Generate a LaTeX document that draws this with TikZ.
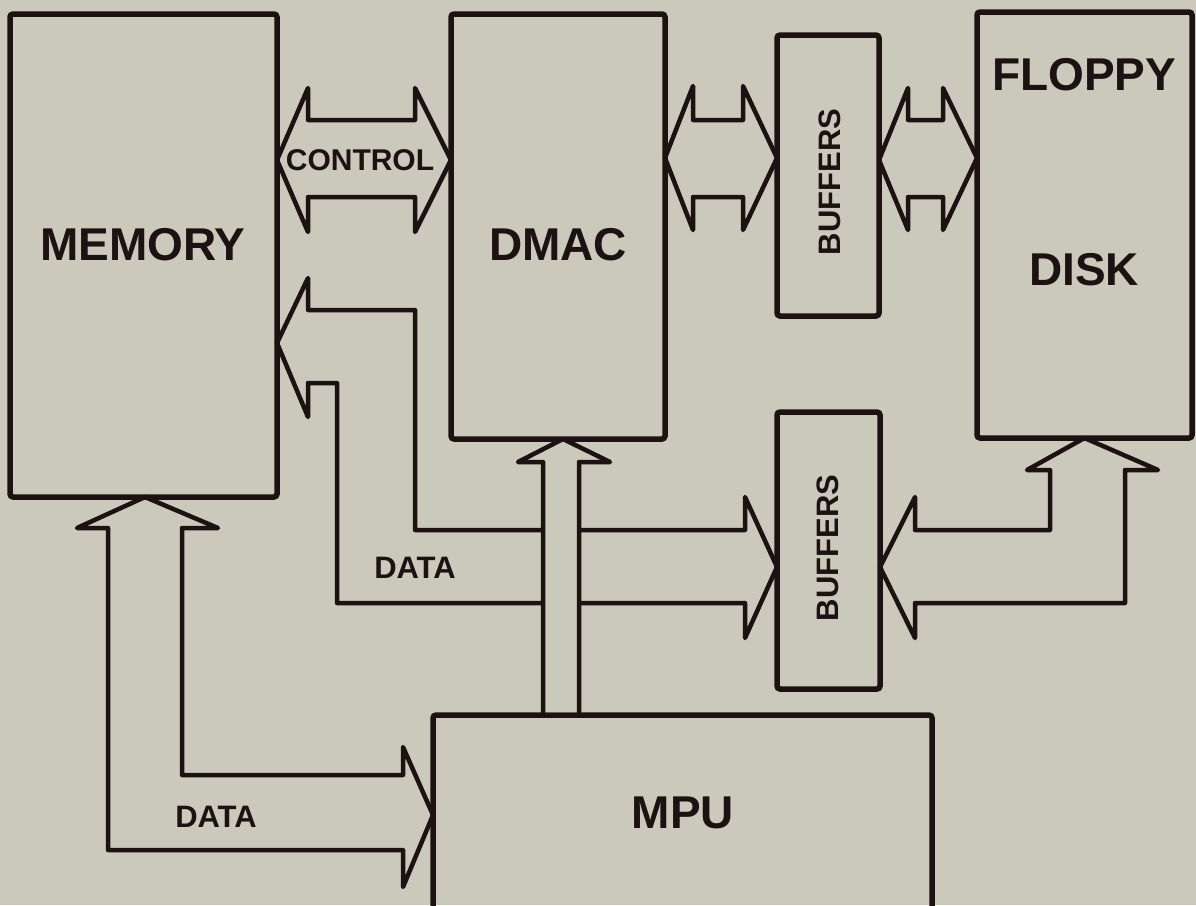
\documentclass[tikz,border=0pt]{standalone}
\usepackage{fontspec}
\setmainfont{Liberation Sans}
\definecolor{bg}{RGB}{203,201,187}
\definecolor{ink}{RGB}{28,18,18}
\begin{document}
\begin{tikzpicture}[x=1pt,y=-1pt,
  box/.style={draw=ink,line width=5.5pt,rounded corners=3pt,outer sep=0pt,inner sep=0pt},
  bus/.style={draw=ink,line width=4.5pt,line join=round},
  big/.style={font=\fontsize{46}{46}\selectfont\bfseries,text=ink,inner sep=0pt},
  lbl/.style={font=\fontsize{31}{31}\selectfont\bfseries,text=ink,inner sep=0pt},
  ctlfont/.style={font=\fontsize{30}{30}\selectfont\bfseries,text=ink,inner sep=0pt}]
\clip (0,0) rectangle (1196,905);
\fill[bg] (0,0) rectangle (1196,905);

% boxes
\node[box,minimum width=267pt,minimum height=483pt] (mem) at (143.5,255.5) {};
\node[box,minimum width=214pt,minimum height=425pt] (dmac) at (558,226.5) {};
\node[box,minimum width=102pt,minimum height=281pt] (buf1) at (828,175.5) {};
\node[box,minimum width=215pt,minimum height=426pt] (floppy) at (1084.5,225) {};
\node[box,minimum width=103pt,minimum height=277pt] (buf2) at (828.5,550.5) {};
\node[box,minimum width=499pt,minimum height=215pt] (mpu) at (682.5,822.5) {};

% labels
\node[big] (memt) at (143,245) {MEMORY};
\node[big] (dmact) at (558,245) {DMAC};
\node[big] (flt) at (1084,75) {FLOPPY};
\node[big] (dkt) at (1084,270) {DISK};
\node[big] (mput) at (683,813) {MPU};
\node[lbl,rotate=90] (b1t) at (830,182) {BUFFERS};
\node[lbl,rotate=90] (b2t) at (828,548) {BUFFERS};
\node[ctlfont] (ctl) at (360,160) {CONTROL};
\node[lbl] (d1) at (415,568) {DATA};
\node[lbl] (d2) at (216,817) {DATA};

% CONTROL: memory <-> DMAC
\draw[bus] (mem.east |- 0,160) -- (308,88) -- (308,120) -- (415,120) -- (415,88)
  -- (dmac.west |- 0,160) -- (415,232) -- (415,197) -- (308,197) -- (308,232) -- cycle;

% DMAC <-> buffers
\draw[bus] (dmac.east |- 0,158) -- (693,86) -- (693,120) -- (743,120) -- (743,86)
  -- (buf1.west |- 0,158) -- (743,230) -- (743,197) -- (693,197) -- (693,230) -- cycle;

% buffers <-> floppy
\draw[bus] (buf1.east |- 0,160) -- (908,88) -- (908,120) -- (943,120) -- (943,88)
  -- (floppy.west |- 0,158) -- (943,230) -- (943,197) -- (908,197) -- (908,230) -- cycle;

% DATA bus: buffers -> memory (left head) and -> buffers (right head)
\draw[bus] (mem.east |- 0,343) -- (308,278) -- (308,310) -- (415,310) -- (415,530)
  -- (745,530) -- (745,497) -- (buf2.west |- 0,567) -- (745,638) -- (745,603)
  -- (337,603) -- (337,383) -- (308,383) -- (308,417) -- cycle;

% floppy <-> lower buffers
\draw[bus] (buf2.east |- 0,567) -- (915,497) -- (915,530) -- (1050,530) -- (1050,470)
  -- (1027,470) -- (floppy.south |- 0,438) -- (1158,470) -- (1125,470) -- (1125,603)
  -- (915,603) -- (915,638) -- cycle;

% memory <-> MPU DATA
\draw[bus] (145,0 |- mem.south) -- (218,528) -- (182,528) -- (182,775) -- (403,775)
  -- (403,747) -- (mpu.west |- 0,815) -- (403,887) -- (403,850) -- (108,850)
  -- (108,528) -- (77,528) -- cycle;

% MPU -> DMAC
\fill[bg] (543,712) -- (543,462) -- (518,462) -- (563,439) -- (610,462) -- (579,462) -- (579,712) -- cycle;
\draw[bus] (543,0 |- mpu.north) -- (543,462) -- (518,462) -- (563,0 |- dmac.south) -- (610,462)
  -- (579,462) -- (579,0 |- mpu.north);
\end{tikzpicture}
\end{document}
